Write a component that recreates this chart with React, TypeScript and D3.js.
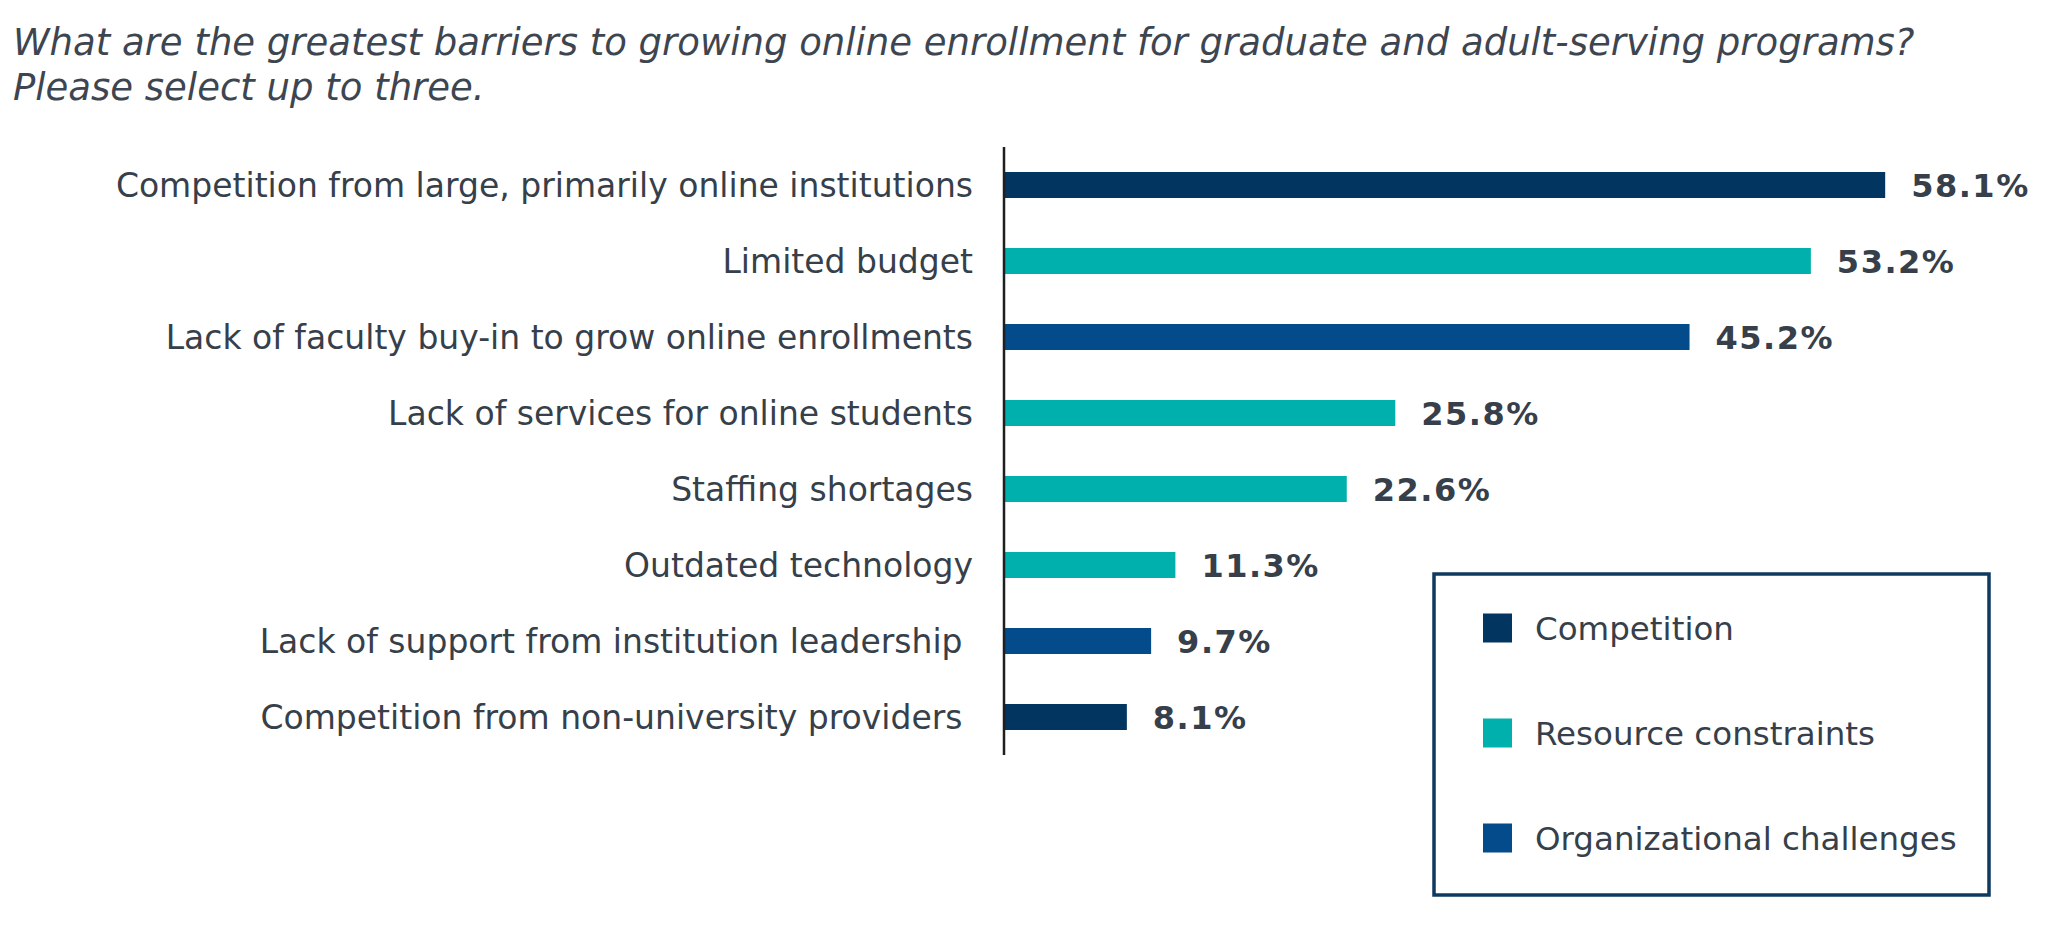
import { useEffect, useRef } from "react";
import * as d3 from "d3";

// Chart data
const categories = [
  "Competition from large, primarily online institutions",
  "Limited budget",
  "Lack of faculty buy-in to grow online enrollments",
  "Lack of services for online students",
  "Staffing shortages",
  "Outdated technology",
  "Lack of support from institution leadership ",
  "Competition from non-university providers ",
];
const values = [58.1, 53.2, 45.2, 25.8, 22.6, 11.3, 9.7, 8.1];
const groups = [
  "Competition",
  "Resource constraints",
  "Organizational challenges",
  "Resource constraints",
  "Resource constraints",
  "Resource constraints",
  "Organizational challenges",
  "Competition",
];
const legendItems = ["Competition", "Resource constraints", "Organizational challenges"];
const legendColors = ["#02355f", "#00b0ad", "#034b8a"];
const titleLines = [
  "What are the greatest barriers to growing online enrollment for graduate and adult-serving programs?",
  "Please select up to three.",
];

const WIDTH = 2048;
const HEIGHT = 929;
const FONT = "'DejaVu Sans', Verdana, sans-serif";
const TEXT = "#363f4a";

const App: React.FC = () => {
  const svgRef = useRef<SVGSVGElement | null>(null);

  useEffect(() => {
    if (!svgRef.current) return;
    const svg = d3.select(svgRef.current);
    svg.selectAll("*").remove();

    const color = d3.scaleOrdinal<string, string>().domain(legendItems).range(legendColors);

    // Scales
    const x = d3.scaleLinear().domain([0, 60]).range([1004, 1914]);
    const y = d3
      .scaleBand<string>()
      .domain(categories)
      .range([147, 755])
      .paddingInner(0.658)
      .paddingOuter(0.329);

    // Title
    svg
      .append("g")
      .selectAll("text")
      .data(titleLines)
      .join("text")
      .attr("x", 13)
      .attr("y", (_d, i) => 55 + i * 45)
      .attr("font-family", FONT)
      .attr("font-style", "italic")
      .attr("font-size", 37)
      .attr("fill", "#3d4650")
      .text(d => d);

    // Bars
    svg
      .append("g")
      .selectAll("rect")
      .data(values)
      .join("rect")
      .attr("x", x(0))
      .attr("y", (_d, i) => y(categories[i])!)
      .attr("width", d => x(d) - x(0))
      .attr("height", y.bandwidth())
      .attr("fill", (_d, i) => color(groups[i]));

    // Category labels
    svg
      .append("g")
      .selectAll("text")
      .data(categories)
      .join("text")
      .attr("x", x(0) - 31)
      .attr("y", d => y(d)! + y.bandwidth() / 2)
      .attr("dy", "0.36em")
      .attr("text-anchor", "end")
      .attr("font-family", FONT)
      .attr("font-size", 33)
      .attr("fill", TEXT)
      .style("white-space", "pre")
      .text(d => d);

    // Value labels
    svg
      .append("g")
      .selectAll("text")
      .data(values)
      .join("text")
      .attr("x", d => x(d) + 26)
      .attr("y", (_d, i) => y(categories[i])! + y.bandwidth() / 2)
      .attr("dy", "0.36em")
      .attr("font-family", FONT)
      .attr("font-weight", "bold")
      .attr("font-size", 32)
      .attr("letter-spacing", 1.5)
      .attr("fill", TEXT)
      .text(d => `${d.toFixed(1)}%`);

    // Vertical axis line
    svg
      .append("line")
      .attr("x1", x(0))
      .attr("x2", x(0))
      .attr("y1", y.range()[0])
      .attr("y2", y.range()[1])
      .attr("stroke", "#1f1f1f")
      .attr("stroke-width", 2.5);

    // Legend
    const legend = svg.append("g");
    legend
      .append("rect")
      .attr("x", 1434)
      .attr("y", 574)
      .attr("width", 555)
      .attr("height", 321)
      .attr("fill", "none")
      .attr("stroke", "#0f3a60")
      .attr("stroke-width", 3.5);

    const ly = d3.scalePoint<string>().domain(legendItems).range([628, 838]);

    legend
      .selectAll("rect.key")
      .data(legendItems)
      .join("rect")
      .attr("class", "key")
      .attr("x", 1483)
      .attr("y", d => ly(d)! - 14.5)
      .attr("width", 29)
      .attr("height", 29)
      .attr("fill", d => color(d));

    legend
      .selectAll("text")
      .data(legendItems)
      .join("text")
      .attr("x", 1535)
      .attr("y", d => ly(d)!)
      .attr("dy", "0.36em")
      .attr("font-family", FONT)
      .attr("font-size", 32.5)
      .attr("fill", TEXT)
      .text(d => d);
  }, []);

  return (
    <svg
      ref={svgRef}
      width={WIDTH}
      height={HEIGHT}
      style={{ position: "absolute", top: 0, left: 0, background: "#fff" }}
    />
  );
};

export default App;
